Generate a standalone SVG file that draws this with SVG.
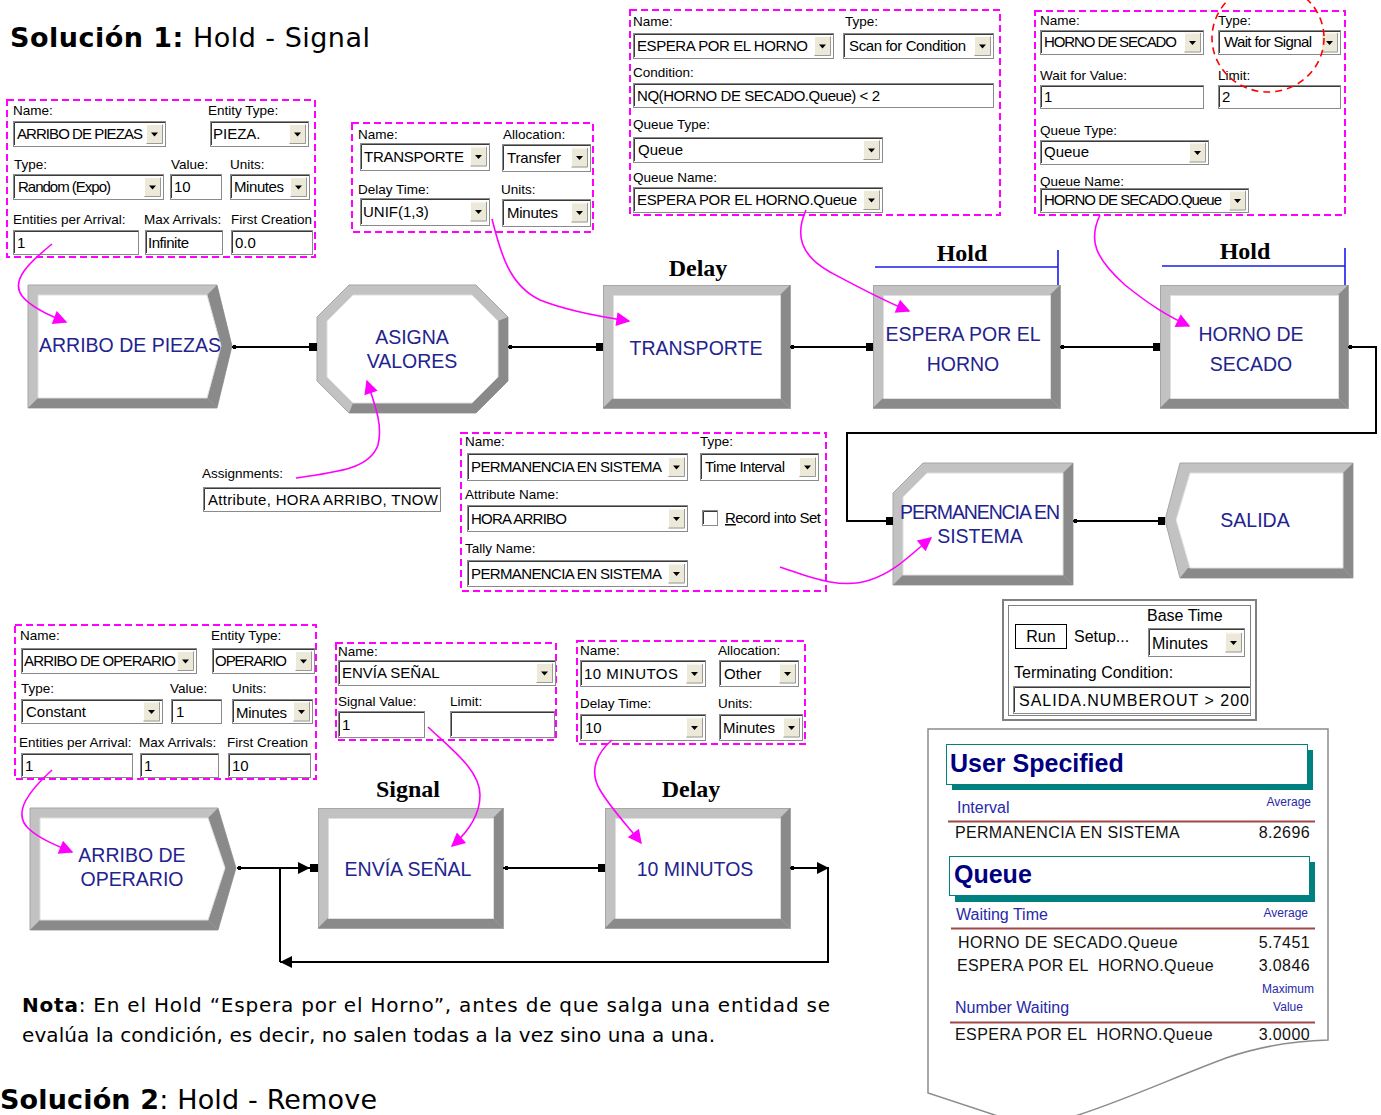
<svg xmlns="http://www.w3.org/2000/svg" width="1381" height="1115" viewBox="0 0 1381 1115">
<style>
  text{font-family:"Liberation Sans",Arial,sans-serif}
  .lb{font-size:13.5px;fill:#000}
  .fv{font-size:15px;fill:#000}
  .rp{font-size:16px;fill:#000}
  .f{fill:#fff;stroke:#8a8a8a;stroke-width:1}
  .fs{fill:none;stroke:#3a3a3a;stroke-width:1}
  .dlg{fill:none;stroke:#ff00ff;stroke-width:2;stroke-dasharray:7 4}
  .bl{fill:#c2c2c2;stroke:#a6a6a6;stroke-width:1}
  .bd{fill:#8a8a8a}
  .bi{fill:#fff;stroke:#dedede;stroke-width:1}
  .mt{font-size:19.5px;fill:#23238e;text-anchor:middle}
  .tag{font-family:"Liberation Serif","Times New Roman",serif;font-weight:bold;font-size:24px;text-anchor:middle;fill:#000}
  .cn{fill:none;stroke:#000;stroke-width:2}
  .pt{fill:#000}
  .mg{fill:none;stroke:#ff00ff;stroke-width:1.6;marker-end:url(#am)}
  .hb{fill:none;stroke:#1c1cf0;stroke-width:1.6}
  .ttl{font-family:"DejaVu Sans",Verdana,sans-serif;font-size:27px;fill:#000}
  .nt{font-family:"DejaVu Sans",Verdana,sans-serif;font-size:20px;fill:#000}
  .rh{font-size:25px;font-weight:bold;fill:#000080}
  .rs{font-size:16px;fill:#2828a8}
  .ra{font-size:12px;fill:#2828a8;text-anchor:end}
  .rd{font-size:16px;fill:#111;letter-spacing:0.4px}
  .re{font-size:16px;fill:#111;letter-spacing:0.4px;text-anchor:end}
  .rl{fill:none;stroke:#a04848;stroke-width:2}
</style>
<defs>
  <marker id="am" viewBox="0 0 10 10" refX="9" refY="5" markerWidth="18" markerHeight="14" markerUnits="userSpaceOnUse" orient="auto">
    <path d="M0,0 L10,5 L0,10 z" fill="#ff00ff"/>
  </marker>
  <marker id="ab" viewBox="0 0 10 10" refX="10" refY="5" markerWidth="14" markerHeight="12" markerUnits="userSpaceOnUse" orient="auto">
    <path d="M0,0 L10,5 L0,10 z" fill="#000"/>
  </marker>
  <!-- combo box drop-down button -->
  <g id="dd">
    <rect width="17" height="20" fill="#ece9d8"/>
    <path d="M.5,19.5V.5H16.5" fill="none" stroke="#fff"/>
    <path d="M.5,19.5H16.5V.5" fill="none" stroke="#9a9a9a"/>
    <path d="M5,8.5h7l-3.5,4z" fill="#000"/>
  </g>
</defs>

<rect width="1381" height="1115" fill="#fff"/>

<!-- headings -->
<text class="ttl" x="10" y="47" textLength="360" lengthAdjust="spacing"><tspan font-weight="bold">Solución 1:</tspan> Hold - Signal</text>

<!-- ===== dialogs ===== -->
<g id="dlg-arribo-piezas">
  <rect class="dlg" x="7" y="100" width="308" height="157"/>
  <text class="lb" x="13" y="115">Name:</text>
  <text class="lb" x="208" y="115">Entity Type:</text>
  <rect class="f" x="13.5" y="121.5" width="152" height="25"/><path class="fs" d="M14.5,145V122.5H165"/>
  <text class="fv" x="17" y="139" textLength="126">ARRIBO DE PIEZAS</text>
  <use href="#dd" x="146" y="124"/>
  <rect class="f" x="210.5" y="121.5" width="98" height="25"/><path class="fs" d="M211.5,145V122.5H308"/>
  <text class="fv" x="213" y="139">PIEZA.</text>
  <use href="#dd" x="289" y="124"/>
  <text class="lb" x="14" y="169">Type:</text>
  <text class="lb" x="171" y="169">Value:</text>
  <text class="lb" x="230" y="169">Units:</text>
  <rect class="f" x="13.5" y="174.5" width="150" height="25"/><path class="fs" d="M14.5,198V175.5H163"/>
  <text class="fv" x="18" y="192" textLength="93">Random (Expo)</text>
  <use href="#dd" x="144" y="177"/>
  <rect class="f" x="170.5" y="174.5" width="51" height="25"/><path class="fs" d="M171.5,198V175.5H221"/>
  <text class="fv" x="174" y="192">10</text>
  <rect class="f" x="230.5" y="174.5" width="79" height="25"/><path class="fs" d="M231.5,198V175.5H309"/>
  <text class="fv" x="234" y="192" textLength="50">Minutes</text>
  <use href="#dd" x="290" y="177"/>
  <text class="lb" x="13" y="224">Entities per Arrival:</text>
  <text class="lb" x="144" y="224">Max Arrivals:</text>
  <text class="lb" x="231" y="224">First Creation</text>
  <rect class="f" x="13.5" y="230.5" width="125" height="24"/><path class="fs" d="M14.5,253V231.5H138"/>
  <text class="fv" x="17" y="248">1</text>
  <rect class="f" x="145.5" y="230.5" width="77" height="24"/><path class="fs" d="M146.5,253V231.5H222"/>
  <text class="fv" x="148" y="248" textLength="41">Infinite</text>
  <rect class="f" x="231.5" y="230.5" width="81" height="24"/><path class="fs" d="M232.5,253V231.5H312"/>
  <text class="fv" x="235" y="248">0.0</text>
</g>

<g id="dlg-transporte">
  <rect class="dlg" x="352" y="123" width="241" height="109"/>
  <text class="lb" x="358" y="139">Name:</text>
  <text class="lb" x="503" y="139">Allocation:</text>
  <rect class="f" x="360.5" y="143.5" width="129" height="27"/><path class="fs" d="M361.5,169V144.5H489"/>
  <text class="fv" x="364" y="162" textLength="100">TRANSPORTE</text>
  <use href="#dd" x="470" y="146.5"/>
  <rect class="f" x="502.5" y="144.5" width="88" height="27"/><path class="fs" d="M503.5,170V145.5H590"/>
  <text class="fv" x="507" y="163" textLength="54">Transfer</text>
  <use href="#dd" x="571" y="147.5"/>
  <text class="lb" x="358" y="194">Delay Time:</text>
  <text class="lb" x="501" y="194">Units:</text>
  <rect class="f" x="360.5" y="198.5" width="129" height="27"/><path class="fs" d="M361.5,224V199.5H489"/>
  <text class="fv" x="363" y="217">UNIF(1,3)</text>
  <use href="#dd" x="470" y="201.5"/>
  <rect class="f" x="502.5" y="199.5" width="88" height="27"/><path class="fs" d="M503.5,225V200.5H590"/>
  <text class="fv" x="507" y="218" textLength="51">Minutes</text>
  <use href="#dd" x="571" y="202.5"/>
</g>

<g id="dlg-espera">
  <rect class="dlg" x="630" y="10" width="370" height="205"/>
  <text class="lb" x="633" y="26">Name:</text>
  <text class="lb" x="845" y="26">Type:</text>
  <rect class="f" x="633.5" y="33.5" width="200" height="25"/><path class="fs" d="M634.5,57V34.5H833"/>
  <text class="fv" x="637" y="51" textLength="171">ESPERA POR EL HORNO</text>
  <use href="#dd" x="814" y="36"/>
  <rect class="f" x="843.5" y="33.5" width="150" height="25"/><path class="fs" d="M844.5,57V34.5H993"/>
  <text class="fv" x="849" y="51" textLength="117">Scan for Condition</text>
  <use href="#dd" x="974" y="36"/>
  <text class="lb" x="633" y="77">Condition:</text>
  <rect class="f" x="633.5" y="83.5" width="360" height="24"/><path class="fs" d="M634.5,106V84.5H993"/>
  <text class="fv" x="637" y="101" textLength="243">NQ(HORNO DE SECADO.Queue) &lt; 2</text>
  <text class="lb" x="633" y="129">Queue Type:</text>
  <rect class="f" x="633.5" y="137.5" width="249" height="25"/><path class="fs" d="M634.5,161V138.5H882"/>
  <text class="fv" x="638" y="155">Queue</text>
  <use href="#dd" x="863" y="140"/>
  <text class="lb" x="633" y="182">Queue Name:</text>
  <rect class="f" x="633.5" y="187.5" width="249" height="25"/><path class="fs" d="M634.5,211V188.5H882"/>
  <text class="fv" x="637" y="205" textLength="220">ESPERA POR EL HORNO.Queue</text>
  <use href="#dd" x="863" y="190"/>
</g>

<g id="dlg-horno">
  <rect class="dlg" x="1035" y="11" width="310" height="204"/>
  <text class="lb" x="1040" y="25">Name:</text>
  <text class="lb" x="1218" y="25">Type:</text>
  <rect class="f" x="1040.5" y="30.5" width="163" height="24"/><path class="fs" d="M1041.5,53V31.5H1203"/>
  <text class="fv" x="1044" y="47" textLength="133">HORNO DE SECADO</text>
  <use href="#dd" x="1184" y="32.5"/>
  <rect class="f" x="1218.5" y="30.5" width="122" height="24"/><path class="fs" d="M1219.5,53V31.5H1340"/>
  <text class="fv" x="1224" y="47" textLength="88">Wait for Signal</text>
  <use href="#dd" x="1321" y="32.5"/>
  <text class="lb" x="1040" y="80">Wait for Value:</text>
  <text class="lb" x="1218" y="80">Limit:</text>
  <rect class="f" x="1040.5" y="85.5" width="163" height="23"/><path class="fs" d="M1041.5,107V86.5H1203"/>
  <text class="fv" x="1044" y="102">1</text>
  <rect class="f" x="1218.5" y="85.5" width="122" height="23"/><path class="fs" d="M1219.5,107V86.5H1340"/>
  <text class="fv" x="1222" y="102">2</text>
  <text class="lb" x="1040" y="135">Queue Type:</text>
  <rect class="f" x="1040.5" y="140.5" width="168" height="24"/><path class="fs" d="M1041.5,163V141.5H1208"/>
  <text class="fv" x="1044" y="157">Queue</text>
  <use href="#dd" x="1189" y="142.5"/>
  <text class="lb" x="1040" y="186">Queue Name:</text>
  <rect class="f" x="1040.5" y="188.5" width="208" height="24"/><path class="fs" d="M1041.5,211V189.5H1248"/>
  <text class="fv" x="1044" y="205" textLength="178">HORNO DE SECADO.Queue</text>
  <use href="#dd" x="1229" y="190.5"/>
  <ellipse cx="1268" cy="38" rx="56" ry="54" fill="none" stroke="#ff0000" stroke-width="1.6" stroke-dasharray="7 5"/>
</g>

<g id="dlg-assignments">
  <text class="lb" x="202" y="478">Assignments:</text>
  <rect class="f" x="203.5" y="487.5" width="237" height="24"/><path class="fs" d="M204.5,510V488.5H440"/>
  <text class="fv" x="208" y="505" textLength="230">Attribute, HORA ARRIBO, TNOW</text>
</g>

<g id="dlg-permanencia">
  <rect class="dlg" x="461" y="433" width="365" height="158"/>
  <text class="lb" x="465" y="446">Name:</text>
  <text class="lb" x="700" y="446">Type:</text>
  <rect class="f" x="467.5" y="453.5" width="220" height="27"/><path class="fs" d="M468.5,479V454.5H687"/>
  <text class="fv" x="471" y="472" textLength="191">PERMANENCIA EN SISTEMA</text>
  <use href="#dd" x="668" y="457"/>
  <rect class="f" x="700.5" y="453.5" width="118" height="27"/><path class="fs" d="M701.5,479V454.5H818"/>
  <text class="fv" x="705" y="472" textLength="80">Time Interval</text>
  <use href="#dd" x="799" y="457"/>
  <text class="lb" x="465" y="499">Attribute Name:</text>
  <rect class="f" x="467.5" y="505.5" width="220" height="26"/><path class="fs" d="M468.5,530V506.5H687"/>
  <text class="fv" x="471" y="524" textLength="96">HORA ARRIBO</text>
  <use href="#dd" x="668" y="508.5"/>
  <rect class="f" x="702.5" y="510.5" width="15" height="15"/><path class="fs" d="M703.5,524V511.5H717"/>
  <text class="fv" x="725" y="523" textLength="96"><tspan text-decoration="underline">R</tspan>ecord into Set</text>
  <text class="lb" x="465" y="553">Tally Name:</text>
  <rect class="f" x="467.5" y="560.5" width="220" height="26"/><path class="fs" d="M468.5,585V561.5H687"/>
  <text class="fv" x="471" y="579" textLength="191">PERMANENCIA EN SISTEMA</text>
  <use href="#dd" x="668" y="563.5"/>
</g>

<g id="dlg-arribo-operario">
  <rect class="dlg" x="15" y="625" width="301" height="154"/>
  <text class="lb" x="20" y="640">Name:</text>
  <text class="lb" x="211" y="640">Entity Type:</text>
  <rect class="f" x="21.5" y="648.5" width="175" height="25"/><path class="fs" d="M22.5,672V649.5H196"/>
  <text class="fv" x="24" y="666" textLength="152">ARRIBO DE OPERARIO</text>
  <use href="#dd" x="177" y="651"/>
  <rect class="f" x="212.5" y="648.5" width="102" height="25"/><path class="fs" d="M213.5,672V649.5H314"/>
  <text class="fv" x="215" y="666" textLength="72">OPERARIO</text>
  <use href="#dd" x="295" y="651"/>
  <text class="lb" x="21" y="693">Type:</text>
  <text class="lb" x="170" y="693">Value:</text>
  <text class="lb" x="232" y="693">Units:</text>
  <rect class="f" x="21.5" y="699.5" width="141" height="24"/><path class="fs" d="M22.5,722V700.5H162"/>
  <text class="fv" x="26" y="717">Constant</text>
  <use href="#dd" x="143" y="701.5"/>
  <rect class="f" x="171.5" y="699.5" width="50" height="24"/><path class="fs" d="M172.5,722V700.5H221"/>
  <text class="fv" x="176" y="717">1</text>
  <rect class="f" x="232.5" y="699.5" width="80" height="24"/><path class="fs" d="M233.5,722V700.5H312"/>
  <text class="fv" x="236" y="718" textLength="51">Minutes</text>
  <use href="#dd" x="293" y="701.5"/>
  <text class="lb" x="19" y="747">Entities per Arrival:</text>
  <text class="lb" x="139" y="747">Max Arrivals:</text>
  <text class="lb" x="227" y="747">First Creation</text>
  <rect class="f" x="21.5" y="753.5" width="111" height="24"/><path class="fs" d="M22.5,776V754.5H132"/>
  <text class="fv" x="25" y="771">1</text>
  <rect class="f" x="140.5" y="753.5" width="78" height="24"/><path class="fs" d="M141.5,776V754.5H218"/>
  <text class="fv" x="144" y="771">1</text>
  <rect class="f" x="228.5" y="753.5" width="82" height="24"/><path class="fs" d="M229.5,776V754.5H310"/>
  <text class="fv" x="232" y="771">10</text>
</g>

<g id="dlg-envia">
  <rect class="dlg" x="336" y="643" width="220" height="97"/>
  <text class="lb" x="338" y="656">Name:</text>
  <rect class="f" x="338.5" y="660.5" width="217" height="25"/><path class="fs" d="M339.5,684V661.5H555"/>
  <text class="fv" x="342" y="678">ENVÍA SEÑAL</text>
  <use href="#dd" x="536" y="663"/>
  <text class="lb" x="338" y="706">Signal Value:</text>
  <text class="lb" x="450" y="706">Limit:</text>
  <rect class="f" x="338.5" y="711.5" width="86" height="26"/><path class="fs" d="M339.5,736V712.5H424"/>
  <text class="fv" x="342" y="730">1</text>
  <rect class="f" x="450.5" y="711.5" width="104" height="26"/><path class="fs" d="M451.5,736V712.5H554"/>
</g>

<g id="dlg-10min">
  <rect class="dlg" x="577" y="641" width="228" height="103"/>
  <text class="lb" x="580" y="655">Name:</text>
  <text class="lb" x="718" y="655">Allocation:</text>
  <rect class="f" x="580.5" y="660.5" width="125" height="26"/><path class="fs" d="M581.5,685V661.5H705"/>
  <text class="fv" x="584" y="679" textLength="94">10 MINUTOS</text>
  <use href="#dd" x="686" y="663.5"/>
  <rect class="f" x="719.5" y="660.5" width="79" height="26"/><path class="fs" d="M720.5,685V661.5H798"/>
  <text class="fv" x="724" y="679">Other</text>
  <use href="#dd" x="779" y="663.5"/>
  <text class="lb" x="580" y="708">Delay Time:</text>
  <text class="lb" x="718" y="708">Units:</text>
  <rect class="f" x="580.5" y="714.5" width="125" height="26"/><path class="fs" d="M581.5,739V715.5H705"/>
  <text class="fv" x="585" y="733">10</text>
  <use href="#dd" x="686" y="717.5"/>
  <rect class="f" x="719.5" y="714.5" width="83" height="26"/><path class="fs" d="M720.5,739V715.5H802"/>
  <text class="fv" x="723" y="733" textLength="52">Minutes</text>
  <use href="#dd" x="783" y="717.5"/>
</g>

<g id="run-setup">
  <rect x="1003" y="600" width="253" height="120" fill="#fff" stroke="#808080" stroke-width="2"/>
  <rect x="1008.5" y="605.5" width="242" height="110" fill="none" stroke="#808080"/>
  <rect x="1015.5" y="624.5" width="51" height="24" fill="#fff" stroke="#000"/>
  <text class="rp" x="1041" y="642" style="text-anchor:middle">Run</text>
  <text class="rp" x="1074" y="642">Setup...</text>
  <text class="rp" x="1147" y="621">Base Time</text>
  <rect class="f" x="1148.5" y="628.5" width="96" height="28"/><path class="fs" d="M1149.5,655V629.5H1244"/>
  <text class="rp" x="1152" y="649">Minutes</text>
  <use href="#dd" x="1225" y="632.5"/>
  <text class="rp" x="1014" y="678">Terminating Condition:</text>
  <rect class="f" x="1013.5" y="686.5" width="237" height="27"/><path class="fs" d="M1014.5,712V687.5H1250"/>
  <text class="rp" x="1019" y="706" textLength="230">SALIDA.NUMBEROUT &gt; 200</text>
</g>

<!-- ===== modules ===== -->
<g id="node-arribo-piezas">
  <polygon class="bl" points="28,285 217,285 232,346 217,408 28,408"/>
  <polygon class="bd" points="217,285 232,346 217,408 207,398 221,346 207,295"/>
  <polygon class="bd" points="28,408 217,408 207,398 38,398"/>
  <polygon class="bi" points="38,295 207,295 221,346 207,398 38,398"/>
  <text class="mt" x="130" y="352" textLength="182">ARRIBO DE PIEZAS</text>
</g>

<g id="node-asigna">
  <polygon class="bl" points="349,285 476,285 508,317 508,381 476,413 349,413 317,381 317,317"/>
  <polygon class="bd" points="508,317 508,381 476,413 349,413 353,403 472,403 498,377 498,321"/>
  <polygon class="bi" points="353,295 472,295 498,321 498,377 472,403 353,403 327,377 327,321"/>
  <text class="mt" x="412" y="344">ASIGNA</text>
  <text class="mt" x="412" y="368">VALORES</text>
</g>

<g id="node-transporte">
  <text class="tag" x="698" y="276">Delay</text>
  <rect class="bl" x="603.5" y="285.5" width="187" height="123"/>
  <polygon class="bd" points="790,285 790,408 780,398 780,295"/>
  <polygon class="bd" points="603,408 790,408 780,398 613,398"/>
  <rect class="bi" x="613.5" y="295.5" width="167" height="103"/>
  <text class="mt" x="696" y="355">TRANSPORTE</text>
</g>

<g id="node-espera">
  <text class="tag" x="962" y="261">Hold</text>
  <path class="hb" d="M875,267H1058M1058,250V285"/>
  <rect class="bl" x="873.5" y="285.5" width="187" height="123"/>
  <polygon class="bd" points="1060,285 1060,408 1050,398 1050,295"/>
  <polygon class="bd" points="873,408 1060,408 1050,398 883,398"/>
  <rect class="bi" x="883.5" y="295.5" width="167" height="103"/>
  <text class="mt" x="963" y="341">ESPERA POR EL</text>
  <text class="mt" x="963" y="371">HORNO</text>
</g>

<g id="node-horno">
  <text class="tag" x="1245" y="259">Hold</text>
  <path class="hb" d="M1162,266H1345M1345,248V285"/>
  <rect class="bl" x="1160.5" y="285.5" width="188" height="123"/>
  <polygon class="bd" points="1348,285 1348,408 1338,398 1338,295"/>
  <polygon class="bd" points="1160,408 1348,408 1338,398 1170,398"/>
  <rect class="bi" x="1170.5" y="295.5" width="168" height="103"/>
  <text class="mt" x="1251" y="341">HORNO DE</text>
  <text class="mt" x="1251" y="371">SECADO</text>
</g>

<g id="node-permanencia">
  <polygon class="bl" points="923,463 1073,463 1073,585 893,585 893,493"/>
  <polygon class="bd" points="1073,463 1073,585 1063,575 1063,473"/>
  <polygon class="bd" points="893,585 1073,585 1063,575 903,575"/>
  <polygon class="bi" points="927,473 1063,473 1063,575 903,575 903,497"/>
  <text class="mt" x="980" y="519" textLength="160">PERMANENCIA EN</text>
  <text class="mt" x="980" y="543">SISTEMA</text>
</g>

<g id="node-salida">
  <polygon class="bl" points="1180,463 1353,463 1353,578 1180,578 1165,520"/>
  <polygon class="bd" points="1353,463 1353,578 1343,568 1343,473"/>
  <polygon class="bd" points="1180,578 1353,578 1343,568 1188,568"/>
  <polygon class="bi" points="1190,473 1343,473 1343,568 1190,568 1176,520"/>
  <text class="mt" x="1255" y="527">SALIDA</text>
</g>

<g id="node-arribo-operario">
  <polygon class="bl" points="30,808 218,808 236,868 218,930 30,930"/>
  <polygon class="bd" points="218,808 236,868 218,930 208,920 225,868 208,818"/>
  <polygon class="bd" points="30,930 218,930 208,920 40,920"/>
  <polygon class="bi" points="40,818 208,818 225,868 208,920 40,920"/>
  <text class="mt" x="132" y="862">ARRIBO DE</text>
  <text class="mt" x="132" y="886">OPERARIO</text>
</g>

<g id="node-envia">
  <text class="tag" x="408" y="797">Signal</text>
  <rect class="bl" x="318.5" y="808.5" width="185" height="120"/>
  <polygon class="bd" points="503,808 503,928 493,918 493,818"/>
  <polygon class="bd" points="318,928 503,928 493,918 328,918"/>
  <rect class="bi" x="328.5" y="818.5" width="165" height="100"/>
  <text class="mt" x="408" y="876">ENVÍA SEÑAL</text>
</g>

<g id="node-10min">
  <text class="tag" x="691" y="797">Delay</text>
  <rect class="bl" x="605.5" y="808.5" width="185" height="120"/>
  <polygon class="bd" points="790,808 790,928 780,918 780,818"/>
  <polygon class="bd" points="605,928 790,928 780,918 615,918"/>
  <rect class="bi" x="615.5" y="818.5" width="165" height="100"/>
  <text class="mt" x="695" y="876">10 MINUTOS</text>
</g>

<!-- ===== connectors ===== -->
<g id="connectors">
  <path class="cn" d="M232,347H312"/>
  <rect class="pt" x="233" y="345" width="3" height="4"/><rect class="pt" x="309" y="343" width="8" height="8"/>
  <path class="cn" d="M508,347H600"/>
  <rect class="pt" x="509" y="345" width="3" height="4"/><rect class="pt" x="596" y="343" width="7" height="8"/>
  <path class="cn" d="M790,347H870"/>
  <rect class="pt" x="791" y="345" width="3" height="4"/><rect class="pt" x="866" y="343" width="7" height="8"/>
  <path class="cn" d="M1060,347H1156"/>
  <rect class="pt" x="1061" y="345" width="3" height="4"/><rect class="pt" x="1153" y="343" width="7" height="8"/>
  <path class="cn" d="M1348,347H1376V433H847V521H890"/>
  <rect class="pt" x="1349" y="345" width="3" height="4"/><rect class="pt" x="886" y="517" width="7" height="8"/>
  <path class="cn" d="M1073,521H1161"/>
  <rect class="pt" x="1074" y="519" width="3" height="4"/><rect class="pt" x="1158" y="517" width="7" height="8"/>

  <path class="cn" d="M237,868H310" marker-end="url(#ab)"/>
  <rect class="pt" x="238" y="866" width="3" height="4"/><rect class="pt" x="310" y="864" width="8" height="8"/>
  <path class="cn" d="M503,868H601"/>
  <rect class="pt" x="505" y="866" width="3" height="4"/><rect class="pt" x="598" y="864" width="7" height="8"/>
  <path class="cn" d="M790,868H829" marker-end="url(#ab)"/>
  <rect class="pt" x="791" y="866" width="3" height="4"/>
  <path class="cn" d="M828,868V962H280" marker-end="url(#ab)"/>
  <path class="cn" d="M280,868V962"/>

  <!-- callout leaders from the dialogs to their modules -->
  <path class="mg" d="M52,244C30,262 10,280 22,296C30,306 45,314 66,322"/>
  <path class="mg" d="M492,219C500,250 508,285 540,300C565,310 595,316 629,321"/>
  <path class="mg" d="M806,210C795,235 800,255 830,272C860,288 880,299 909,311"/>
  <path class="mg" d="M1100,215C1088,240 1095,258 1125,285C1150,305 1166,315 1189,326"/>
  <path class="mg" d="M296,478C340,472 370,468 378,445C383,425 375,405 367,381"/>
  <path class="mg" d="M780,567C810,577 840,590 870,580C895,572 910,555 931,538"/>
  <path class="mg" d="M52,770C30,790 12,812 28,828C38,838 55,845 72,852"/>
  <path class="mg" d="M428,727C450,748 480,770 480,795C480,815 468,832 452,846"/>
  <path class="mg" d="M612,740C598,752 588,770 600,790C612,810 628,826 641,843"/>
</g>

<!-- ===== results report ===== -->
<g id="report">
  <path d="M928,729H1328V1040C1292,1041 1258,1047 1226,1058C1172,1078 1112,1106 1062,1120H1010L928,1093Z" fill="#fff" stroke="#8c8c8c" stroke-width="1.5"/>
  <rect x="952" y="750" width="361" height="40" fill="#008080"/>
  <rect x="946.5" y="744.5" width="361" height="40" fill="#fff" stroke="#008080"/>
  <text class="rh" x="950" y="772">User Specified</text>
  <text class="rs" x="957" y="813">Interval</text>
  <text class="ra" x="1311" y="806">Average</text>
  <path class="rl" d="M948,821.5H1315"/>
  <text class="rd" x="955" y="838" textLength="225">PERMANENCIA EN SISTEMA</text>
  <text class="re" x="1310" y="838">8.2696</text>

  <rect x="955" y="862" width="360" height="40" fill="#008080"/>
  <rect x="949.5" y="856.5" width="360" height="39" fill="#fff" stroke="#008080"/>
  <text class="rh" x="954" y="883">Queue</text>
  <text class="rs" x="956" y="920">Waiting Time</text>
  <text class="ra" x="1308" y="917">Average</text>
  <path class="rl" d="M951,928.5H1315"/>
  <text class="rd" x="958" y="948" textLength="220">HORNO DE SECADO.Queue</text>
  <text class="re" x="1310" y="948">5.7451</text>
  <text class="rd" x="957" y="971" textLength="257" xml:space="preserve">ESPERA POR EL  HORNO.Queue</text>
  <text class="re" x="1310" y="971">3.0846</text>
  <text class="ra" x="1314" y="993">Maximum</text>
  <text class="ra" x="1288" y="1011" style="text-anchor:middle">Value</text>
  <text class="rs" x="955" y="1013">Number Waiting</text>
  <path class="rl" d="M950,1022.5H1315"/>
  <text class="rd" x="955" y="1040" textLength="258" xml:space="preserve">ESPERA POR EL  HORNO.Queue</text>
  <text class="re" x="1310" y="1040">3.0000</text>
</g>

<!-- note and next heading -->
<text class="nt" x="22" y="1012" textLength="808" lengthAdjust="spacing"><tspan font-weight="bold">Nota</tspan>: En el Hold “Espera por el Horno”, antes de que salga una entidad se</text>
<text class="nt" x="22" y="1042" textLength="693" lengthAdjust="spacing">evalúa la condición, es decir, no salen todas a la vez sino una a una.</text>
<text class="ttl" x="0" y="1109" textLength="377" lengthAdjust="spacing"><tspan font-weight="bold">Solución 2</tspan>: Hold - Remove</text>
</svg>
